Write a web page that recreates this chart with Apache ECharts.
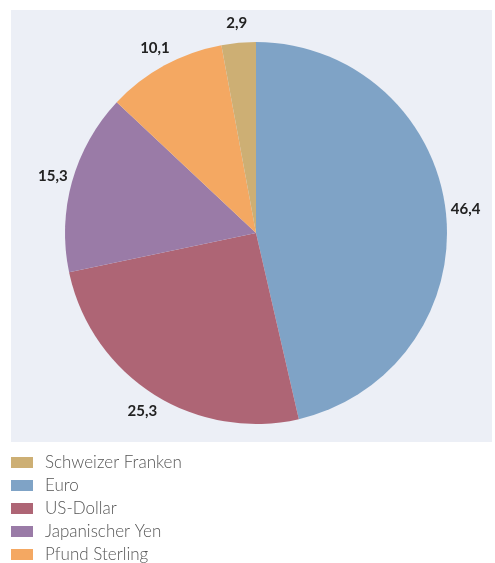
<!DOCTYPE html>
<html>
<head>
<meta charset="utf-8">
<script src="https://cdn.jsdelivr.net/npm/echarts@6/dist/echarts.min.js"></script>
<style>
  html, body { margin: 0; padding: 0; background: #fff; }
  #main { width: 495px; height: 563px; }
</style>
</head>
<body>
<div id="main"></div>
<script>
// Anteile in Prozent, im Uhrzeigersinn ab 12 Uhr
var currencies = ['Euro', 'US-Dollar', 'Japanischer Yen', 'Pfund Sterling', 'Schweizer Franken'];
var shares = [46.4, 25.3, 15.3, 10.1, 2.9];
var colors = ['#7fa3c6', '#ae6575', '#9a7ba7', '#f4a862', '#cdaf74'];
var legendOrder = ['Schweizer Franken', 'Euro', 'US-Dollar', 'Japanischer Yen', 'Pfund Sterling'];

var myChart = echarts.init(document.getElementById('main'));

var pieData = currencies.map(function (name, i) {
    return { name: name, value: shares[i], itemStyle: { color: colors[i] } };
});

var option = {
    animation: false,
    graphic: [{
        type: 'rect',
        z: -10,
        shape: { x: 11, y: 10, width: 481, height: 432 },
        style: { fill: '#eceff6' }
    }],
    legend: {
        data: legendOrder,
        orient: 'vertical',
        left: 11,
        top: 454,
        height: 120,
        padding: 0,
        icon: 'rect',
        itemWidth: 22,
        itemHeight: 11,
        itemGap: 6,
        textStyle: {
            fontFamily: 'Lato',
            fontSize: 17,
            fontWeight: 300,
            color: '#555',
            padding: [0, 0, 0, 7]
        }
    },
    series: [{
        type: 'pie',
        center: [256, 233],
        radius: 191,
        startAngle: 90,
        clockwise: true,
        data: pieData,
        label: {
            position: 'outside',
            overflow: 'none',
            formatter: function (p) { return String(p.value).replace('.', ','); },
            fontFamily: 'Lato',
            fontSize: 15,
            fontWeight: 'bold',
            color: '#222'
        },
        labelLine: { show: false, length: 10, length2: 0 },
        // Beschriftung mittig auf einem Kreis knapp außerhalb des Tortenrands
        labelLayout: function (p) {
            var pts = p.labelLinePoints;
            if (!pts) return {};
            var dx = pts[1][0] - pts[0][0], dy = pts[1][1] - pts[0][1];
            var len = Math.sqrt(dx * dx + dy * dy) || 1;
            return {
                x: pts[0][0] + dx / len * 20,
                y: pts[0][1] + dy / len * 20,
                align: 'center',
                verticalAlign: 'middle'
            };
        },
        emphasis: { disabled: true }
    }]
};

myChart.setOption(option);
</script>
</body>
</html>
